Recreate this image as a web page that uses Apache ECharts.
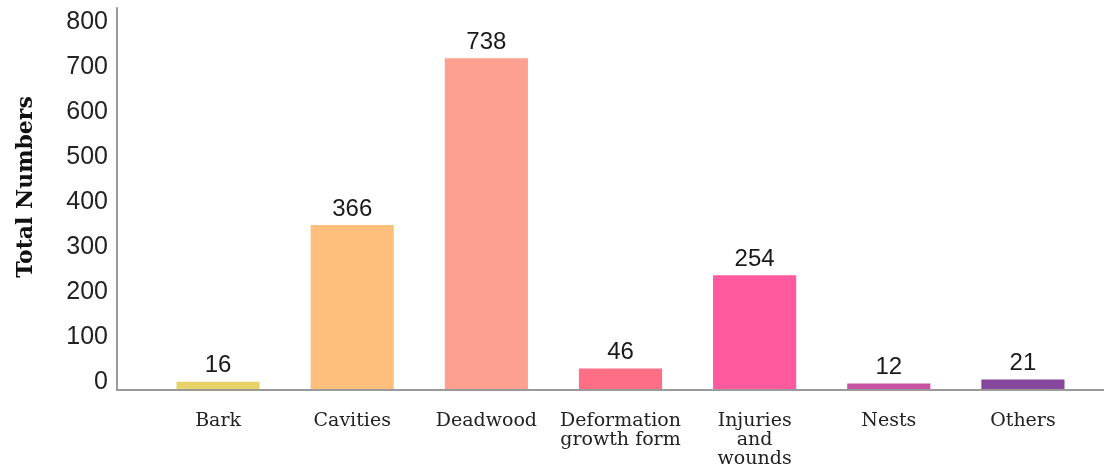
<!DOCTYPE html>
<html>
<head>
<meta charset="utf-8">
<script src="https://cdn.jsdelivr.net/npm/echarts@6/dist/echarts.min.js"></script>
<style>
  html, body { margin: 0; padding: 0; background: #fff; }
  #chart { width: 1104px; height: 469px; }
</style>
</head>
<body>
<div id="chart"></div>
<script>
// Tree-related microhabitat types and their counts
const categories = ['Bark', 'Cavities', 'Deadwood', 'Deformation\ngrowth form', 'Injuries\nand\nwounds', 'Nests', 'Others'];
const totals = [16, 366, 738, 46, 254, 12, 21];
const barColors = ['#e6d267', '#fdbf7b', '#fea08f', '#fe6f86', '#fe5a9d', '#c852a3', '#86469b'];

const Y_MAX = 850;
const Y_STEP = 100;

const chart = echarts.init(document.getElementById('chart'));

chart.setOption({
  animation: false,
  backgroundColor: '#fff',
  grid: [
    // plot area holding the bars
    { left: 151, right: 14, top: 8, bottom: 79 },
    // frame grid drawing the visible axis lines and value labels
    { left: 117, right: 0, top: 8, bottom: 79 }
  ],
  xAxis: [
    {
      type: 'category',
      gridIndex: 0,
      data: categories,
      axisLine: { show: false },
      axisTick: { show: false },
      axisLabel: {
        interval: 0,
        margin: 23,
        fontFamily: 'DejaVu Serif',
        fontSize: 19,
        lineHeight: 19,
        color: '#222'
      }
    },
    {
      type: 'value',
      gridIndex: 1,
      min: 0,
      max: 1,
      axisLine: { show: true, lineStyle: { color: '#9a9a9a', width: 2 } },
      axisTick: { show: false },
      axisLabel: { show: false },
      splitLine: { show: false }
    }
  ],
  yAxis: [
    {
      type: 'value',
      gridIndex: 0,
      min: 0,
      max: Y_MAX,
      interval: Y_STEP,
      show: false
    },
    {
      type: 'value',
      gridIndex: 1,
      min: 0,
      max: Y_MAX,
      interval: Y_STEP,
      name: 'Total Numbers',
      nameLocation: 'middle',
      nameGap: 80,
      nameTextStyle: {
        fontFamily: 'DejaVu Serif',
        fontWeight: 'bold',
        fontSize: 22,
        color: '#111',
        padding: [0, 0, 0, 24]
      },
      axisLine: { show: true, lineStyle: { color: '#9a9a9a', width: 2 } },
      axisTick: { show: false },
      splitLine: { show: false },
      axisLabel: {
        showMaxLabel: false,
        margin: 9,
        verticalAlign: 'bottom',
        lineHeight: 16,
        fontFamily: 'Liberation Sans',
        fontSize: 25,
        color: '#222'
      }
    }
  ],
  series: [
    {
      type: 'bar',
      xAxisIndex: 0,
      yAxisIndex: 0,
      barWidth: '62%',
      data: totals.map((v, i) => ({ value: v, itemStyle: { color: barColors[i] } })),
      label: {
        show: true,
        position: 'top',
        distance: 4,
        fontFamily: 'Liberation Sans',
        fontSize: 24,
        color: '#1a1a1a'
      }
    }
  ]
});
</script>
</body>
</html>
